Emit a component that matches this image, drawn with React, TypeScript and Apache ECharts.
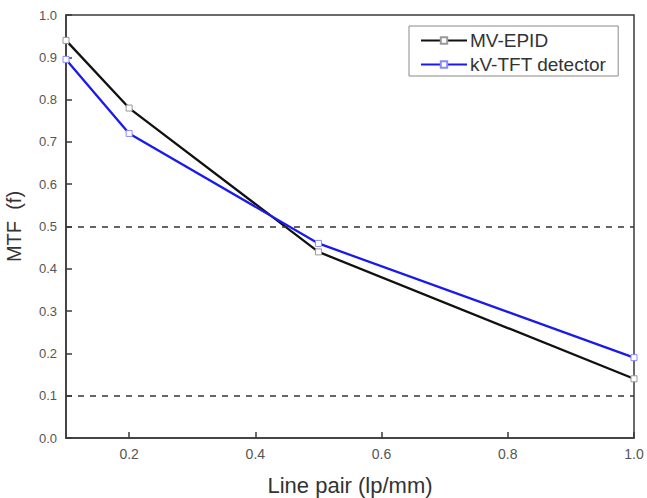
import React, { useEffect, useRef } from "react";
import * as echarts from "echarts";

// Spatial frequency (lp/mm) and MTF values for each detector
const linePairs = [0.1, 0.2, 0.5, 1.0];
const mvEpid = [0.94, 0.78, 0.44, 0.14];
const kvTft = [0.895, 0.72, 0.46, 0.19];
const xTickValues = [0.2, 0.4, 0.6, 0.8, 1.0];
const referenceLevels = [0.5, 0.1];

const FONT = "Liberation Sans, Arial, sans-serif";
const AXIS_COLOR = "#3a3a3a";

export default function App() {
  const ref = useRef<HTMLDivElement>(null);

  useEffect(() => {
    if (!ref.current) return;
    const chart = echarts.init(ref.current, null, { renderer: "svg" });

    const pairs = (ys: number[]) => linePairs.map((x, i) => [x, ys[i]]);

    chart.setOption({
      animation: false,
      backgroundColor: "#ffffff",
      grid: {
        left: 66,
        right: 13,
        top: 15,
        bottom: 60,
        outerBoundsMode: "none",
        show: true,
        borderColor: AXIS_COLOR,
        borderWidth: 1.5,
        backgroundColor: "transparent",
      },
      legend: {
        orient: "vertical",
        left: 409,
        top: 26,
        padding: [5, 12, 2, 11],
        itemGap: 5,
        itemWidth: 46,
        itemHeight: 8,
        borderColor: "#8a8a8a",
        borderWidth: 1,
        textStyle: { fontFamily: FONT, fontSize: 19, color: "#333", padding: [0, 0, 0, -2] },
        data: ["MV-EPID", "kV-TFT detector"],
      },
      xAxis: {
        type: "value",
        min: 0.1,
        max: 1.0,
        name: "Line pair (lp/mm)",
        nameLocation: "middle",
        nameGap: 36,
        nameTextStyle: { fontFamily: FONT, fontSize: 22, color: "#333" },
        splitLine: { show: false },
        axisLine: { lineStyle: { color: AXIS_COLOR, width: 1.5 } },
        axisTick: {
          inside: true,
          length: 6,
          customValues: xTickValues,
          lineStyle: { color: AXIS_COLOR, width: 1.5 },
        },
        axisLabel: {
          customValues: xTickValues,
          formatter: (v: number) => v.toFixed(1),
          fontFamily: FONT,
          fontSize: 14,
          color: "#555",
          margin: 9,
        },
      },
      yAxis: {
        type: "value",
        min: 0,
        max: 1.0,
        interval: 0.1,
        name: "MTF  (f)",
        nameLocation: "middle",
        nameGap: 42,
        nameTextStyle: { fontFamily: FONT, fontSize: 20, color: "#333" },
        splitLine: { show: false },
        axisLine: { show: true, lineStyle: { color: AXIS_COLOR, width: 1.5 } },
        axisTick: {
          show: true,
          inside: true,
          length: 6,
          lineStyle: { color: AXIS_COLOR, width: 1.5 },
        },
        axisLabel: {
          formatter: (v: number) => v.toFixed(1),
          fontFamily: FONT,
          fontSize: 13,
          color: "#555",
          margin: 9,
        },
      },
      series: [
        {
          name: "MV-EPID",
          type: "line",
          data: pairs(mvEpid),
          symbol: "rect",
          symbolSize: 6,
          itemStyle: { color: "#ffffff", borderColor: "#999", borderWidth: 1 },
          lineStyle: { color: "#111", width: 2.3 },
          z: 3,
          markLine: {
            silent: true,
            symbol: "none",
            label: { show: false },
            lineStyle: { color: "#333", type: [6, 6], width: 1.5 },
            data: referenceLevels.map((y) => ({ yAxis: y })),
          },
        },
        {
          name: "kV-TFT detector",
          type: "line",
          data: pairs(kvTft),
          symbol: "rect",
          symbolSize: 6,
          itemStyle: { color: "#ffffff", borderColor: "#8a8aff", borderWidth: 1 },
          lineStyle: { color: "#1a1aee", width: 2.3 },
          z: 4,
        },
      ],
    });

    return () => chart.dispose();
  }, []);

  return <div ref={ref} style={{ width: 647, height: 498, position: "fixed", left: 0, top: 0 }} />;
}
